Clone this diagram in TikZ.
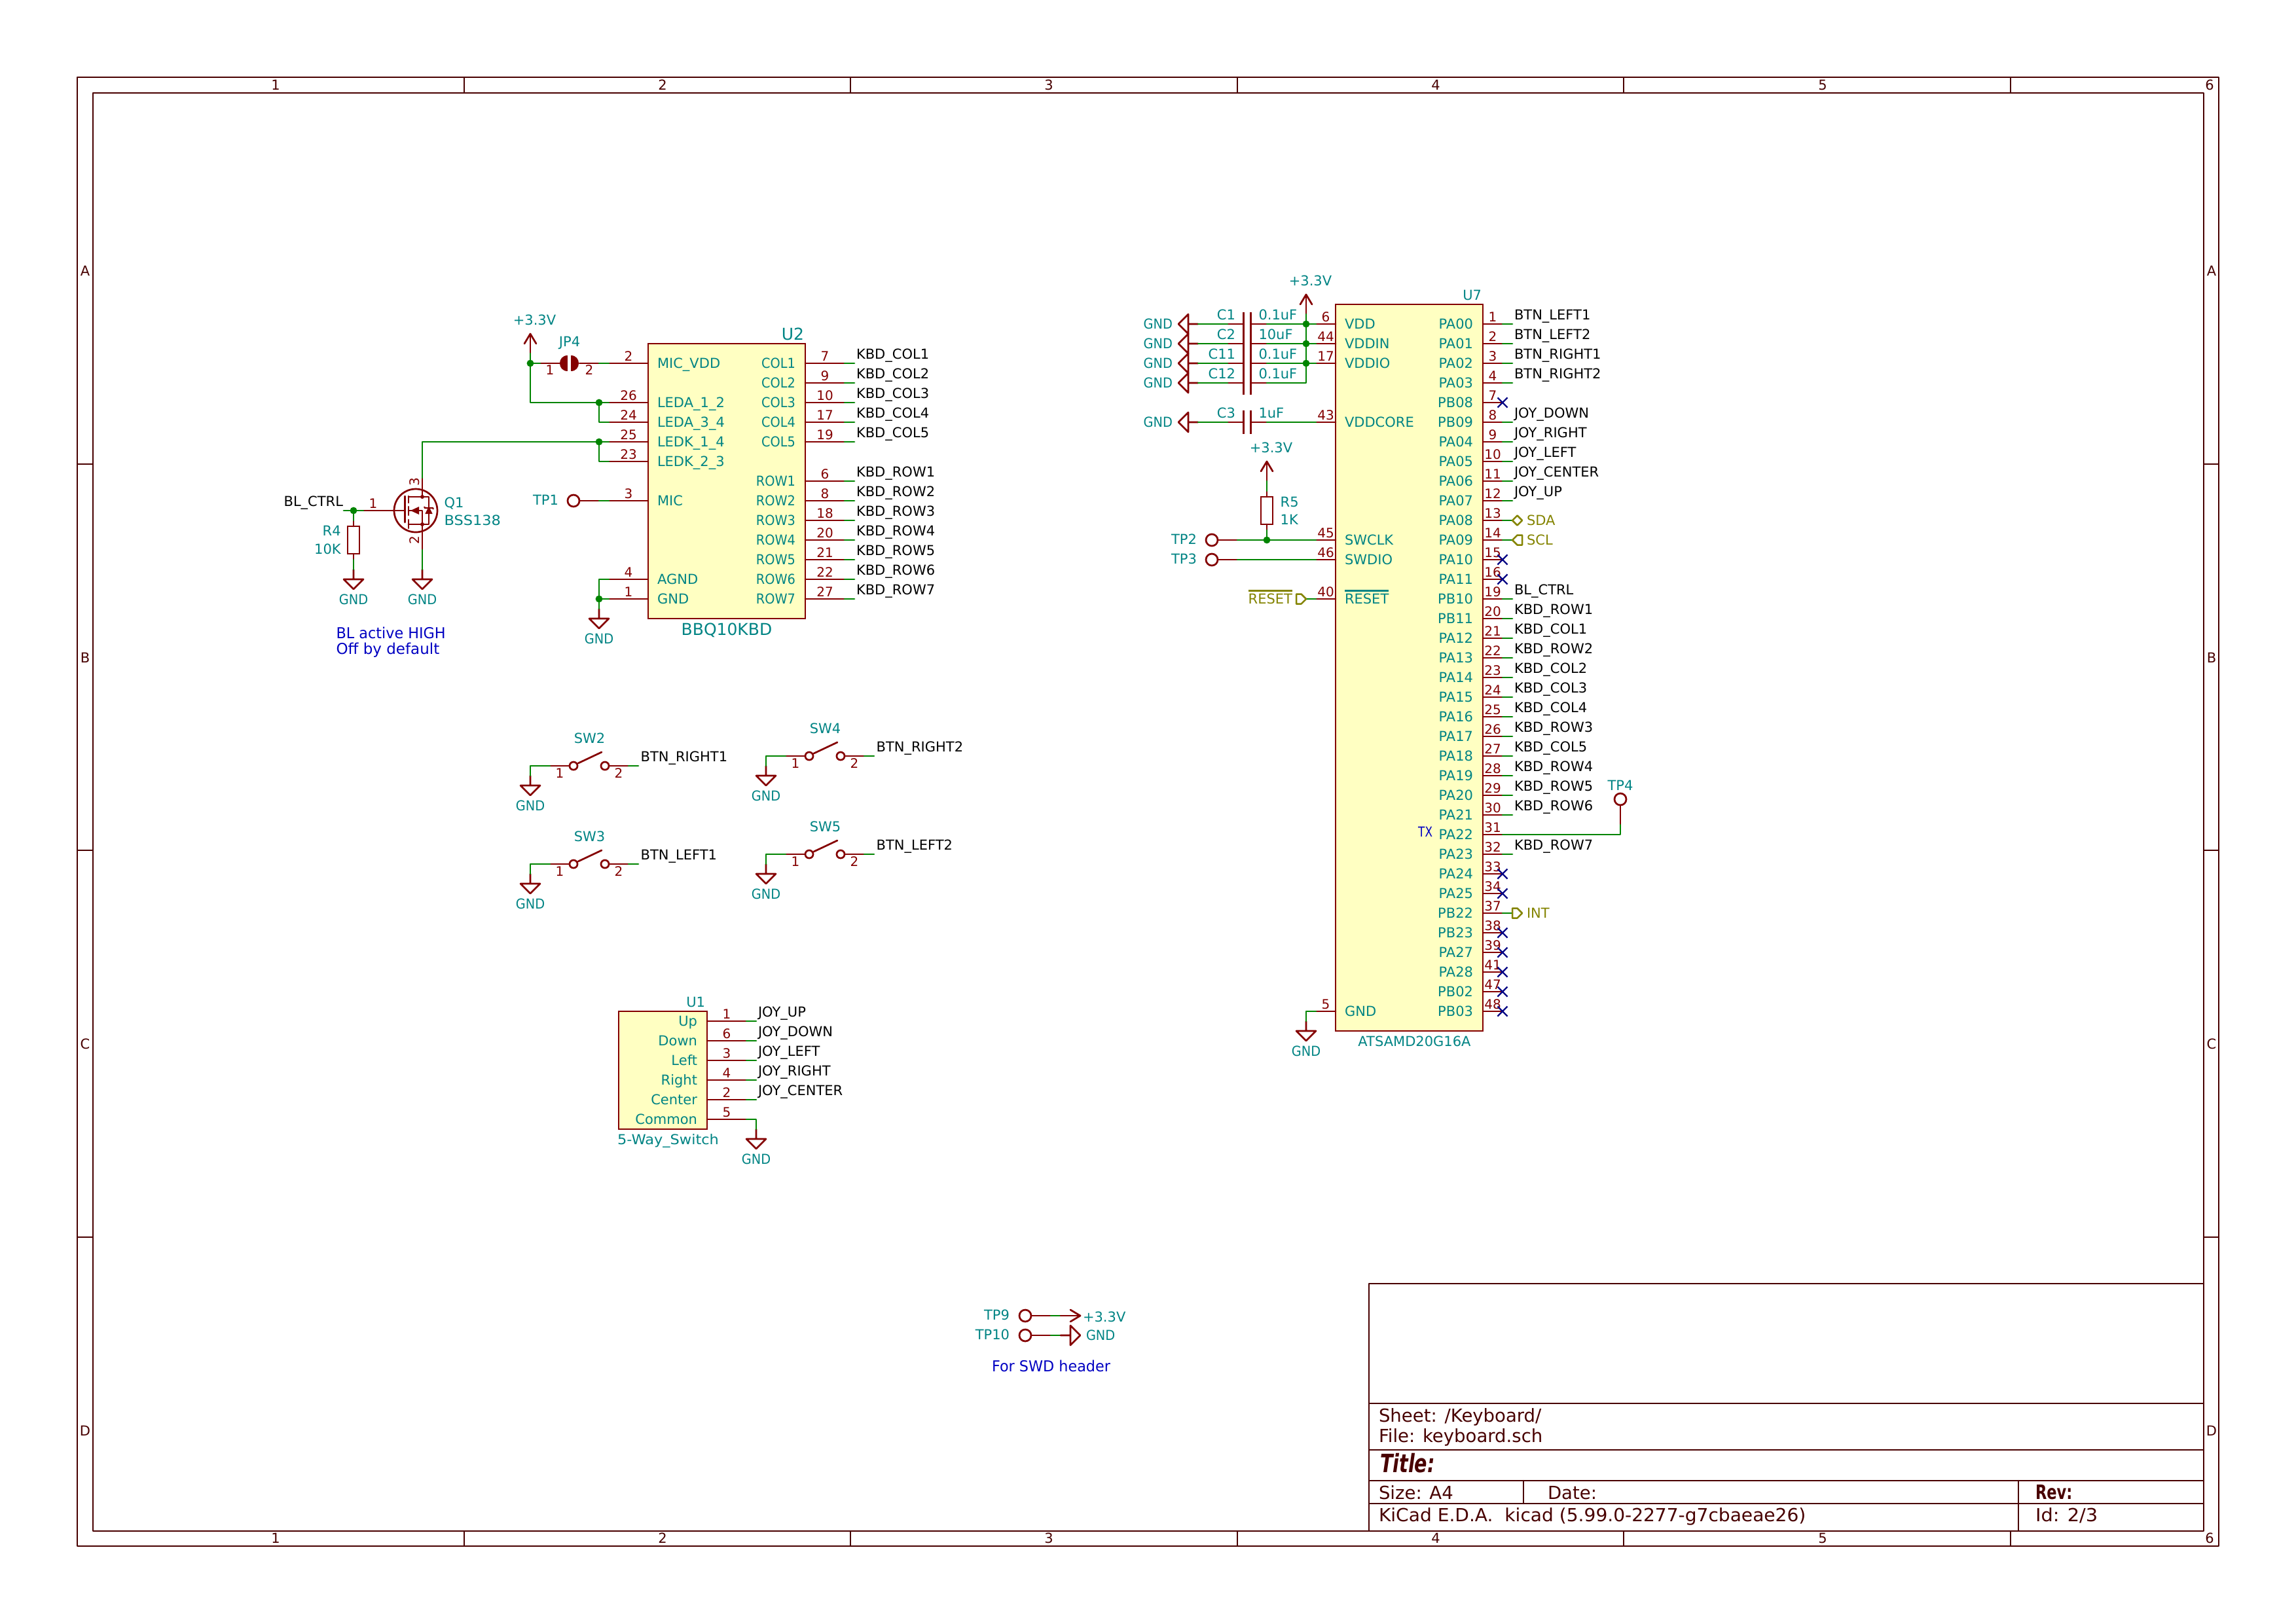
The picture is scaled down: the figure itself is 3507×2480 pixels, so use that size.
\documentclass[tikz,border=0pt]{standalone}
\usepackage{fontspec}
\usepackage{graphicx}
\setmainfont{DejaVu Sans}
\usetikzlibrary{shapes.misc}
\definecolor{pinred}{HTML}{840000}
\definecolor{wiregreen}{HTML}{008400}
\definecolor{tealtx}{HTML}{008484}
\definecolor{chipfill}{HTML}{FFFFC2}
\definecolor{framec}{HTML}{480000}
\definecolor{noteblue}{HTML}{0000C2}
\definecolor{ncnavy}{HTML}{000084}
\definecolor{netolive}{HTML}{848400}
\newcommand\ftA{\fontsize{5.06pt}{6pt}\selectfont}
\newcommand\ftN{\fontsize{4.82pt}{6pt}\selectfont}
\newcommand\ftB{\fontsize{6.02pt}{7pt}\selectfont}
\newcommand\ftS{\fontsize{5.54pt}{7pt}\selectfont}
\newcommand\ftT{\fontsize{6.63pt}{8pt}\selectfont}
\newcommand\nar[1]{\scalebox{0.92}[1]{#1}}
\tikzset{
 x=0.24bp,y=-0.24bp,
 txtbase/.style={inner sep=0pt,outer sep=0pt,text depth=0pt,text height=3.67bp,font=\ftA},
 pinnum/.style={txtbase,text=pinred,font=\ftN,text height=3.5bp},
 pinname/.style={txtbase,text=tealtx},
 tealtxt/.style={txtbase,text=tealtx},
 bigref/.style={txtbase,text=tealtx,font=\ftB,text height=4.39bp},
 netlab/.style={txtbase,text=black,anchor=west},
 olivetxt/.style={txtbase,text=netolive,anchor=west},
 bluetxt/.style={txtbase,text=noteblue,font=\ftS,text height=4.03bp,anchor=west},
 frametxt/.style={txtbase,text=framec},
 blocktxt/.style={txtbase,text=framec,font=\ftT,text height=4.8bp,anchor=west},
 pinline/.style={draw=pinred,line width=0.65bp,line cap=round,line join=round},
 wireline/.style={draw=wiregreen,line width=0.65bp,line cap=round,line join=round},
 frameline/.style={draw=framec,line width=0.5bp,line cap=round,line join=round},
 oliveline/.style={draw=netolive,line width=0.6bp,line cap=round,line join=round},
 chipbox/.style={draw=pinred,fill=chipfill,line width=0.68bp,inner sep=0pt,outer sep=0pt,anchor=north west,rectangle},
 resbox/.style={draw=pinred,line width=0.65bp,inner sep=0pt,outer sep=0pt,rectangle,minimum width=4.32bp,minimum height=10.08bp},
 tpcirc/.style={draw=pinred,line width=0.65bp,circle,inner sep=0pt,outer sep=0pt,minimum size=4.32bp},
 swcirc/.style={draw=pinred,line width=0.65bp,circle,inner sep=0pt,outer sep=0pt,minimum size=2.9bp},
 junc/.style={fill=wiregreen,circle,inner sep=0pt,outer sep=0pt,minimum size=2.6bp},
 ncmark/.style={draw=ncnavy,line width=0.55bp,cross out,inner sep=0pt,outer sep=0pt,minimum size=3.6bp},
}
% pins: prefix, number, box edge x, y, length, name
\newcommand\pinleft[6]{%
 \coordinate (#1p#2) at (#3-#5,#4);
 \draw[pinline] (#3,#4) -- (#1p#2);
 \node[pinnum] (#1p#2num) at (#3-#5/2,#4-11) {#2};
 \node[pinname,anchor=west] (#1p#2name) at (#3+14,#4) {#6};}
\newcommand\pinright[6]{%
 \coordinate (#1p#2) at (#3+#5,#4);
 \draw[pinline] (#3,#4) -- (#1p#2);
 \node[pinnum] (#1p#2num) at (#3+#5/2,#4-11) {#2};
 \node[pinname,anchor=east] (#1p#2name) at (#3-15,#4) {#6};}
\newcommand\netwire[3]{% prefix, number, text
 \draw[wireline] (#1p#2) -- ++(15,0);
 \path (#1p#2) ++(18,-14) node[netlab] (#1l#2) {#3};}
\newcommand\gnddown[3]{%
 \coordinate (#1) at (#2,#3);
 \draw[pinline] (#1) -- (#2,#3+15) -- (#2-15,#3+15) -- (#2,#3+30) -- (#2+15,#3+15) -- (#2,#3+15);
 \node[tealtxt] (#1txt) at (#2,#3+46) {\nar{GND}};}
\newcommand\gndleft[3]{%
 \coordinate (#1) at (#2,#3);
 \draw[pinline] (#1) -- (#2-15,#3) -- (#2-15,#3-15) -- (#2-30,#3) -- (#2-15,#3+15) -- (#2-15,#3);
 \node[tealtxt,anchor=east] (#1txt) at (#2-39,#3) {\nar{GND}};}
\newcommand\pwrup[3]{%
 \coordinate (#1) at (#2,#3);
 \draw[pinline] (#1) -- (#2,#3-30);
 \draw[pinline] (#2-9,#3-15) -- (#2,#3-30) -- (#2+9,#3-15);
 \node[tealtxt] (#1txt) at (#2+6.5,#3-51) {+3.3V};}
\newcommand\tpleft[4]{% name, origin x, y, text
 \coordinate (#1) at (#2,#3);
 \node[tpcirc] (#1c) at (#2-39,#3) {};
 \draw[pinline] (#1) -- (#1c);
 \node[tealtxt,anchor=east] (#1txt) at (#2-62,#3-1) {#4};}
\newcommand\resvert[5]{% name, x, y, ref, value
 \node[resbox] (#1) at (#2,#3) {};
 \coordinate (#1a) at (#2,#3-30);
 \coordinate (#1b) at (#2,#3+30);
 \draw[pinline] (#1a) -- (#1.north);
 \draw[pinline] (#1.south) -- (#1b);}
\newcommand\capa[4]{% name, y, ref, value
 \coordinate (#1L) at (1875,#2);
 \coordinate (#1R) at (1935,#2);
 \draw[pinline] (#1L) -- (1899.5,#2);
 \draw[pinline] (1910.5,#2) -- (#1R);
 \draw[pinred,line width=0.75bp] (1899.5,#2-18) -- (1899.5,#2+18);
 \draw[pinred,line width=0.75bp] (1910.5,#2-18) -- (1910.5,#2+18);
 \node[tealtxt,anchor=east] (#1ref) at (1887,#2-14) {#3};
 \node[tealtxt,anchor=west] (#1val) at (1922.5,#2-14) {#4};}
\newcommand\switch[6]{% name, dx, dy, ref, net, unused
 \begin{scope}[shift={(#2,#3)}]
 \coordinate (#1a) at (840,1170);
 \coordinate (#1b) at (960,1170);
 \coordinate (#1w) at (975,1170);
 \node[swcirc] (#1c1) at (876,1170) {};
 \node[swcirc] (#1c2) at (924,1170) {};
 \draw[pinline] (#1a) -- (#1c1);
 \draw[pinline] (#1c2) -- (#1b);
 \draw[pinline] (883,1166) -- (919,1149);
 \draw[wireline] (#1b) -- (#1w);
 \node[tealtxt] (#1ref) at (900.5,1128) {#4};
 \node[pinnum] (#1n1) at (855,1181) {1};
 \node[pinnum] (#1n2) at (945,1181) {2};
 \node[netlab] (#1net) at (978.6,1156) {#5};
 \gnddown{#1g}{810}{1185}
 \draw[wireline] (#1a) -| (#1g);
 \end{scope}}

\begin{document}
\begin{tikzpicture}
\useasboundingbox (0,0) rectangle (3507,2480);
\fill[white] (0,0) rectangle (3507,2480);

% ---------- sheet frame
\draw[frameline] (118,118) rectangle (3389,2362);
\draw[frameline] (142,142) rectangle (3366,2339);
\foreach \cx in {709,1299,1890,2480,3071}{
 \draw[frameline] (\cx,118) -- (\cx,142);
 \draw[frameline] (\cx,2339) -- (\cx,2362);}
\foreach \ry in {709,1299,1890}{
 \draw[frameline] (118,\ry) -- (142,\ry);
 \draw[frameline] (3366,\ry) -- (3389,\ry);}
\foreach \cn/\cx in {1/421,2/1012,3/1602,4/2193,5/2784,6/3375}{
 \node[frametxt] (coltop\cn) at (\cx,130) {\cn};
 \node[frametxt] (colbot\cn) at (\cx,2350) {\cn};}
\foreach \rn/\ry in {A/414,B/1005,C/1595,D/2186}{
 \node[frametxt] (rowl\rn) at (130,\ry) {\rn};
 \node[frametxt] (rowr\rn) at (3378,\ry) {\rn};}
% title block
\draw[frameline] (2091,2339) -- (2091,1961) -- (3366,1961);
\draw[frameline] (2091,2144) -- (3366,2144);
\draw[frameline] (2091,2215) -- (3366,2215);
\draw[frameline] (2091,2262) -- (3366,2262);
\draw[frameline] (2091,2297) -- (3366,2297);
\draw[frameline] (2327,2262) -- (2327,2297);
\draw[frameline] (3083,2262) -- (3083,2339);
\node[blocktxt] (tbsheet) at (2106,2162) {Sheet: /Keyboard/};
\node[blocktxt] (tbfile) at (2106,2193) {File: keyboard.sch};
\node[blocktxt] (tbtitle) at (2108,2239) {\scalebox{1.04}[1.4]{\bfseries\itshape Title:}};
\node[blocktxt] (tbsize) at (2106,2280) {Size: A4};
\node[blocktxt] (tbdate) at (2364,2280) {Date:};
\node[blocktxt] (tbrev) at (3109,2280) {\scalebox{0.82}[1.1]{\bfseries Rev:}};
\node[blocktxt] (tbkicad) at (2106,2314) {\scalebox{1.02}[1]{KiCad E.D.A.\ \ kicad (5.99.0-2277-g7cbaeae26)}};
\node[blocktxt] (tbid) at (3109,2314) {\scalebox{1.05}[1]{Id: 2/3}};

% ---------- U2
\node[chipbox,minimum width={240*0.24bp},minimum height={420*0.24bp}] (u2) at (990,525) {};
\foreach \n/\yy/\nm in {2/555/MIC\_VDD,26/615/LEDA\_1\_2,24/645/LEDA\_3\_4,25/675/LEDK\_1\_4,23/705/LEDK\_2\_3,3/765/MIC,4/885/AGND,1/915/GND}{
 \pinleft{u2}{\n}{990}{\yy}{60}{\nm}}
\foreach \n/\yy/\nm/\lab in {7/555/COL1/KBD\_COL1,9/585/COL2/KBD\_COL2,10/615/COL3/KBD\_COL3,17/645/COL4/KBD\_COL4,19/675/COL5/KBD\_COL5,6/735/ROW1/KBD\_ROW1,8/765/ROW2/KBD\_ROW2,18/795/ROW3/KBD\_ROW3,20/825/ROW4/KBD\_ROW4,21/855/ROW5/KBD\_ROW5,22/885/ROW6/KBD\_ROW6,27/915/ROW7/KBD\_ROW7}{
 \pinright{u2}{\n}{1230}{\yy}{60}{\nar{\nm}}
 \netwire{u2}{\n}{\lab}}
\node[bigref,anchor=east] (u2ref) at (1228,510) {U2};
\node[bigref] (u2val) at (1110,961) {BBQ10KBD};

% JP4
\coordinate (jp4a) at (825,555);
\coordinate (jp4b) at (915,555);
\draw[pinline] (jp4a) -- (855,555);
\draw[pinline] (885,555) -- (jp4b);
\fill[pinred] (867,543) .. controls (851,543) and (851,567) .. (867,567) -- cycle;
\fill[pinred] (872,543) .. controls (888,543) and (888,567) .. (872,567) -- cycle;
\node[tealtxt] (jp4ref) at (870,522) {JP4};
\node[pinnum] (jp4n1) at (840,565) {1};
\node[pinnum] (jp4n2) at (900,565) {2};
\pwrup{pwra}{810}{540}
\node[junc] (j1) at (810,555) {};
\node[junc] (j2) at (915,615) {};
\node[junc] (j3) at (915,675) {};
\node[junc] (j5) at (915,915) {};
\draw[wireline] (pwra) -- (j1.center) -- (jp4a);
\draw[wireline] (jp4b) -- (u2p2);
\draw[wireline] (j1.center) |- (j2.center) -- (u2p26);
\draw[wireline] (j2.center) |- (u2p24);
\draw[wireline] (j3.center) -- (u2p25);
\draw[wireline] (j3.center) |- (u2p23);
\tpleft{tpa}{915}{765}{TP1}
\draw[wireline] (tpa) -- (u2p3);
\gnddown{gndu2}{915}{930}
\draw[wireline] (u2p4) -| (j5.center) -- (u2p1);
\draw[wireline] (j5.center) -- (gndu2);

% Q1
\coordinate (q1d) at (645,730);
\coordinate (q1s) at (645,840);
\coordinate (q1g) at (555,780);
\node[circle,draw=pinred,line width=0.65bp,inner sep=0pt,outer sep=0pt,minimum size=15.84bp] (q1) at (635,780) {};
\draw[pinline] (q1g) -- (618.5,780);
\draw[pinline] (618.5,758) -- (618.5,798);
\draw[pinline] (624,758) -- (624,768);
\draw[pinline] (624,774) -- (624,787);
\draw[pinline] (624,794) -- (624,807);
\draw[pinline] (624,759) -- (655,759) -- (655,801) -- (624,801);
\draw[pinline] (624,780) -- (645,780) -- (645,801);
\draw[pinline] (q1d) -- (645,759);
\draw[pinline] (q1s) -- (645,801);
\fill[pinred] (627,780) -- (640,774) -- (640,786) -- cycle;
\fill[pinred] (645,759) circle [radius=3];
\fill[pinred] (645,801) circle [radius=3];
\draw[pinred,line width=0.5bp] (648,774) -- (649,776) -- (661,776) -- (662,778);
\draw[pinred,line width=0.5bp,fill=pinred] (655,776) -- (651,784) -- (659,784) -- cycle;
\node[pinnum,rotate=90] (q1n3) at (633.6,736) {3};
\node[pinnum,rotate=90] (q1n2) at (633.6,825) {2};
\node[pinnum] (q1n1) at (570,769) {1};
\node[tealtxt,anchor=west] (q1ref) at (678.5,768) {Q1};
\node[tealtxt,anchor=west] (q1val) at (678.5,795) {\scalebox{1.07}[1]{BSS138}};
\draw[wireline] (q1d) |- (j3.center);
\gnddown{gndq1}{645}{870}
\draw[wireline] (q1s) -- (gndq1);
% BL_CTRL / R4
\coordinate (blend) at (525,780);
\node[junc] (j4) at (540,780) {};
\draw[wireline] (blend) -- (q1g);
\node[netlab,anchor=east] (blctrl) at (524,766) {BL\_CTRL};
\resvert{r4}{540}{825}{R4}{10K}
\node[tealtxt,anchor=east] (r4ref) at (520.7,810.5) {R4};
\node[tealtxt,anchor=east] (r4val) at (520.7,838.5) {10K};
\gnddown{gndr4}{540}{870}
\draw[wireline] (j4.center) -- (r4a);
\draw[wireline] (r4b) -- (gndr4);
\node[bluetxt] (note1) at (513.6,967.5) {\scalebox{0.97}[1]{BL active HIGH}};
\node[bluetxt] (note2) at (513.6,991) {Off by default};

% ---------- U7
\node[chipbox,minimum width={225*0.24bp},minimum height={1110*0.24bp}] (u7) at (2040,465) {};
\foreach \n/\yy/\nm in {6/495/VDD,44/525/VDDIN,17/555/VDDIO,43/645/VDDCORE,45/825/SWCLK,46/855/SWDIO,40/915/RESET,5/1545/GND}{
 \pinleft{u7}{\n}{2040}{\yy}{30}{\nm}}
\foreach \n/\nm [count=\idx from 0] in {1/PA00,2/PA01,3/PA02,4/PA03,7/PB08,8/PB09,9/PA04,10/PA05,11/PA06,12/PA07,13/PA08,14/PA09,15/PA10,16/PA11,19/PB10,20/PB11,21/PA12,22/PA13,23/PA14,24/PA15,25/PA16,26/PA17,27/PA18,28/PA19,29/PA20,30/PA21,31/PA22,32/PA23,33/PA24,34/PA25,37/PB22,38/PB23,39/PA27,41/PA28,47/PB02,48/PB03}{
 \pgfmathtruncatemacro\yy{495+30*\idx}
 \pinright{u7}{\n}{2265}{\yy}{30}{\nm}}
\foreach \n/\lab in {1/BTN\_LEFT1,2/BTN\_LEFT2,3/BTN\_RIGHT1,4/BTN\_RIGHT2,8/JOY\_DOWN,9/JOY\_RIGHT,10/JOY\_LEFT,11/JOY\_CENTER,12/JOY\_UP,19/BL\_CTRL,20/KBD\_ROW1,21/KBD\_COL1,22/KBD\_ROW2,23/KBD\_COL2,24/KBD\_COL3,25/KBD\_COL4,26/KBD\_ROW3,27/KBD\_COL5,28/KBD\_ROW4,29/KBD\_ROW5,30/KBD\_ROW6,32/KBD\_ROW7}{
 \netwire{u7}{\n}{\lab}}
\foreach \n in {7,15,16,33,34,38,39,41,47,48}{
 \node[ncmark] (nc\n) at (u7p\n) {};}
\node[tealtxt,anchor=east] (u7ref) at (2263,451) {U7};
\node[tealtxt] (u7val) at (2160.5,1591) {ATSAMD20G16A};
\node[txtbase,text=noteblue,anchor=east] (txnote) at (2188,1271) {\scalebox{0.8}[1]{TX}};
\draw[tealtx,line width=0.55bp] ([yshift=1.2bp]u7p40name.north west) -- ([yshift=1.2bp]u7p40name.north east);

% SDA, SCL, INT, RESET labels
\coordinate (sdapt) at (2310,795);
\coordinate (sclpt) at (2310,825);
\coordinate (intpt) at (2310,1395);
\coordinate (rstpt) at (1995,915);
\draw[wireline] (u7p13) -- (sdapt);
\draw[wireline] (u7p14) -- (sclpt);
\draw[wireline] (u7p37) -- (intpt);
\draw[wireline] (rstpt) -- (u7p40);
\draw[oliveline] (sdapt) -- ++(7.5,-7.5) -- ++(7.5,7.5) -- ++(-7.5,7.5) -- cycle;
\draw[oliveline] (sclpt) -- ++(7.5,-7.5) -- ++(7.5,0) -- ++(0,15) -- ++(-7.5,0) -- cycle;
\draw[oliveline] (intpt) -- ++(0,-7.5) -- ++(7.5,0) -- ++(7.5,7.5) -- ++(-7.5,7.5) -- ++(-7.5,0) -- cycle;
\draw[oliveline] (rstpt) -- ++(-7.5,-7.5) -- ++(-7.5,0) -- ++(0,15) -- ++(7.5,0) -- cycle;
\node[olivetxt] (sdatxt) at (2332,795) {SDA};
\node[olivetxt] (scltxt) at (2332,825) {SCL};
\node[olivetxt] (inttxt) at (2332,1395) {INT};
\node[olivetxt,anchor=east] (rsttxt) at (1974,915) {RESET};
\draw[netolive,line width=0.55bp] ([yshift=1.2bp]rsttxt.north west) -- ([yshift=1.2bp]rsttxt.north east);

% capacitors
\capa{ca}{495}{C1}{0.1uF}
\capa{cb}{525}{C2}{10uF}
\capa{cc}{555}{C11}{0.1uF}
\capa{cd}{585}{C12}{0.1uF}
\capa{ce}{645}{C3}{1uF}
\foreach \cn/\yy in {a/495,b/525,c/555,d/585,e/645}{
 \gndleft{gnd\cn}{1830}{\yy}
 \draw[wireline] (gnd\cn) -- (c\cn L);}
\pwrup{pwrb}{1995}{480}
\node[junc] (j6) at (1995,495) {};
\node[junc] (j7) at (1995,525) {};
\node[junc] (j8) at (1995,555) {};
\draw[wireline] (caR) -- (j6.center) -- (u7p6);
\draw[wireline] (cbR) -- (j7.center) -- (u7p44);
\draw[wireline] (ccR) -- (j8.center) -- (u7p17);
\draw[wireline] (pwrb) -- (j6.center) -- (j7.center) -- (j8.center) |- (cdR);
\draw[wireline] (ceR) -- (u7p43);

% R5, TP2, TP3
\pwrup{pwrc}{1935}{735}
\resvert{r5}{1935}{780}{R5}{1K}
\node[tealtxt,anchor=west] (r5ref) at (1955.7,767) {R5};
\node[tealtxt,anchor=west] (r5val) at (1955.7,794) {1K};
\node[junc] (j9) at (1935,825) {};
\draw[wireline] (pwrc) -- (r5a);
\draw[wireline] (r5b) -- (j9.center);
\tpleft{tpb}{1890}{825}{TP2}
\tpleft{tpc}{1890}{855}{TP3}
\draw[wireline] (tpb) -- (j9.center) -- (u7p45);
\draw[wireline] (tpc) -- (u7p46);

% U7 GND
\gnddown{gndu7}{1995}{1560}
\draw[wireline] (u7p5) -| (gndu7);

% TP4
\coordinate (tpd) at (2475,1260);
\node[tpcirc] (tpdc) at (2475,1221) {};
\draw[pinline] (tpd) -- (tpdc);
\node[tealtxt] (tpdtxt) at (2475,1200) {TP4};
\draw[wireline] (u7p31) -| (tpd);

% ---------- switches
\switch{swa}{0}{0}{SW2}{BTN\_RIGHT1}{}
\switch{swb}{0}{150}{SW3}{BTN\_LEFT1}{}
\switch{swc}{360}{-15}{SW4}{BTN\_RIGHT2}{}
\switch{swd}{360}{135}{SW5}{BTN\_LEFT2}{}

% ---------- U1
\node[chipbox,minimum width={135*0.24bp},minimum height={180*0.24bp}] (u1) at (945,1545) {};
\foreach \n/\yy/\nm/\lab in {1/1560/Up/JOY\_UP,6/1590/Down/JOY\_DOWN,3/1620/Left/JOY\_LEFT,4/1650/Right/JOY\_RIGHT,2/1680/Center/JOY\_CENTER}{
 \pinright{u1}{\n}{1080}{\yy}{60}{\nm}
 \netwire{u1}{\n}{\lab}}
\pinright{u1}{5}{1080}{1710}{60}{Common}
\gnddown{gndu1}{1155}{1725}
\draw[wireline] (u1p5) -| (gndu1);
\node[tealtxt,anchor=east] (u1ref) at (1077,1531) {U1};
\node[tealtxt,anchor=west] (u1val) at (943,1741) {\scalebox{1.07}[1]{5-Way\_Switch}};

% ---------- TP9, TP10
\coordinate (tpe) at (1605,2010);
\coordinate (tpf) at (1605,2040);
\node[tpcirc] (tpec) at (1566,2010) {};
\node[tpcirc] (tpfc) at (1566,2040) {};
\draw[pinline] (tpe) -- (tpec);
\draw[pinline] (tpf) -- (tpfc);
\node[tealtxt,anchor=east] (tpetxt) at (1542,2009) {TP9};
\node[tealtxt,anchor=east] (tpftxt) at (1542,2039) {TP10};
\coordinate (pwrd) at (1620,2010);
\coordinate (gndv) at (1620,2040);
\draw[wireline] (tpe) -- (pwrd);
\draw[wireline] (tpf) -- (gndv);
\draw[pinline] (pwrd) -- (1650,2010);
\draw[pinline] (1635,2001) -- (1650,2010) -- (1635,2019);
\draw[pinline] (gndv) -- (1635,2040) -- (1635,2025) -- (1650,2040) -- (1635,2055) -- (1635,2040);
\node[tealtxt,anchor=west] (pwrdtxt) at (1654,2012) {+3.3V};
\node[tealtxt,anchor=west] (gndvtxt) at (1659,2040) {\nar{GND}};
\node[bluetxt] (note3) at (1515,2087) {\scalebox{0.97}[1]{For SWD header}};
\end{tikzpicture}
\end{document}
